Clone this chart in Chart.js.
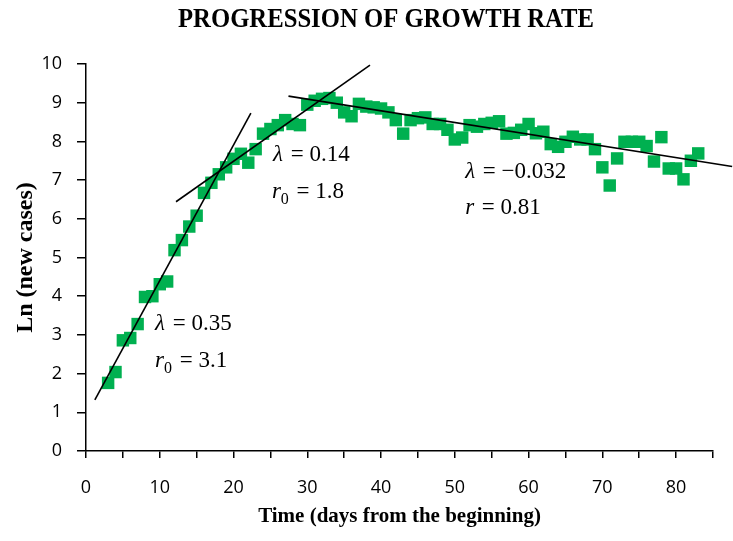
<!DOCTYPE html>
<html>
<head>
<meta charset="utf-8">
<script src="https://cdn.jsdelivr.net/npm/chart.js@4.4.1/dist/chart.umd.min.js"></script>
<style>
  html, body { margin: 0; padding: 0; background: #fff; }
</style>
</head>
<body>
<canvas id="growthChart" width="733" height="541"></canvas>
<script>
// Daily observations (day number and ln of new cases)
const days = [
  3, 4, 5, 6, 7, 8, 9, 10, 11, 12,
  13, 14, 15, 16, 17, 18, 19, 20, 21, 22,
  23, 24, 25, 26, 27, 28, 29, 30, 31, 32,
  33, 34, 35, 36, 37, 38, 39, 40, 41, 42,
  43, 44, 45, 46, 47, 48, 49, 50, 51, 52,
  53, 54, 55, 56, 57, 58, 59, 60, 61, 62,
  63, 64, 65, 66, 67, 68, 69, 70, 71, 72,
  73, 74, 75, 76, 77, 78, 79, 80, 81, 82,
  83
];
const lnCases = [
  1.76, 2.04, 2.86, 2.92, 3.28, 3.98, 4.00, 4.31, 4.38, 5.19,
  5.45, 5.80, 6.08, 6.67, 6.93, 7.15, 7.33, 7.55, 7.68, 7.45,
  7.80, 8.20, 8.32, 8.42, 8.55, 8.45, 8.42, 8.95, 9.05, 9.10,
  9.12, 9.00, 8.75, 8.65, 8.97, 8.90, 8.88, 8.85, 8.75, 8.55,
  8.20, 8.55, 8.60, 8.62, 8.45, 8.45, 8.30, 8.05, 8.10, 8.42,
  8.38, 8.45, 8.48, 8.52, 8.20, 8.22, 8.30, 8.45, 8.21, 8.25,
  7.93, 7.86, 7.99, 8.12, 8.05, 8.05, 7.80, 7.33, 6.86, 7.56,
  7.99, 7.99, 7.99, 7.88, 7.48, 8.11, 7.30, 7.30, 7.02, 7.50,
  7.69
];

// Fitted trend lines (end points)
const fit1X = [1.2, 22.35];
const fit1Y = [1.32, 8.73];
const fit2X = [12.2, 38.5];
const fit2Y = [6.44, 9.97];
const fit3X = [27.45, 87.6];
const fit3Y = [9.17, 7.35];

// Axis ticks
const xMin = 0, xMax = 85, xStep = 5, xLabelStep = 10;
const yMin = 0, yMax = 10, yStep = 1;

// Texts
const chartTitle = 'PROGRESSION OF GROWTH RATE';
const xTitle = 'Time (days from the beginning)';
const yTitle = 'Ln (new cases)';

// Equation labels: placed at data coordinates (left edge, baseline)
const equations = [
  { x: 9.35, y: 3.13, sym: 'λ', sub: '', val: '0.35' },
  { x: 9.35, y: 2.17, sym: 'r', sub: '0', val: '3.1' },
  { x: 25.35, y: 7.49, sym: 'λ', sub: '', val: '0.14' },
  { x: 25.2, y: 6.54, sym: 'r', sub: '0', val: '1.8' },
  { x: 51.4, y: 7.05, sym: 'λ', sub: '', val: '\u22120.032' },
  { x: 51.4, y: 6.12, sym: 'r', sub: '', val: '0.81' }
];

const toPoints = (xs, ys) => xs.map((x, i) => ({ x: x, y: ys[i] }));

// Draw the chart title and the equations
const textPlugin = {
  id: 'texts',
  afterDraw(chart) {
    const ctx = chart.ctx;
    const xs = chart.scales.x;
    const ys = chart.scales.y;

    ctx.save();
    ctx.fillStyle = '#000';
    ctx.textBaseline = 'alphabetic';
    ctx.textAlign = 'center';
    ctx.font = 'bold 28px "Liberation Serif"';
    const w = ctx.measureText(chartTitle).width;
    ctx.translate(386, 27);
    ctx.scale(416 / w, 1);
    ctx.fillText(chartTitle, 0, 0);
    ctx.restore();

    ctx.save();
    ctx.fillStyle = '#000';
    ctx.textAlign = 'left';
    ctx.textBaseline = 'alphabetic';
    equations.forEach(eq => {
      let px = xs.getPixelForValue(eq.x);
      const py = ys.getPixelForValue(eq.y);
      ctx.font = 'italic 23px "Liberation Serif"';
      ctx.fillText(eq.sym, px, py);
      px += ctx.measureText(eq.sym).width;
      if (eq.sub) {
        ctx.font = '16px "Liberation Serif"';
        ctx.fillText(eq.sub, px, py + 6);
        px += ctx.measureText(eq.sub).width;
      }
      ctx.font = '23px "Liberation Serif"';
      ctx.fillText(' = ' + eq.val, px + 2, py);
    });
    ctx.restore();
  }
};

const fitLine = (xs, ys) => ({
  type: 'scatter',
  data: toPoints(xs, ys),
  showLine: true,
  borderColor: '#000',
  borderWidth: 1.6,
  pointRadius: 0,
  clip: false,
  order: 0
});

new Chart(document.getElementById('growthChart'), {
  type: 'scatter',
  data: {
    datasets: [
      {
        label: 'ln(new cases)',
        data: toPoints(days, lnCases),
        pointStyle: 'rect',
        pointRadius: 8.8,
        backgroundColor: '#00B050',
        borderColor: '#00B050',
        borderWidth: 0,
        order: 1
      },
      fitLine(fit1X, fit1Y),
      fitLine(fit2X, fit2Y),
      fitLine(fit3X, fit3Y)
    ]
  },
  options: {
    responsive: false,
    animation: false,
    devicePixelRatio: 1,
    layout: { padding: { top: 64, right: 20, left: 0, bottom: 0 } },
    plugins: {
      legend: { display: false },
      tooltip: { enabled: false }
    },
    scales: {
      x: {
        type: 'linear',
        min: xMin,
        max: xMax,
        afterFit: s => { s.height = 90; },
        ticks: {
          stepSize: xStep,
          autoSkip: false,
          maxRotation: 0,
          padding: 19,
          color: '#000',
          font: { family: '"Open Sans"', size: 18 },
          callback: v => (v % xLabelStep === 0 ? String(v) : '')
        },
        grid: {
          drawOnChartArea: false,
          drawTicks: true,
          tickLength: 7,
          color: '#000',
          lineWidth: 1.5
        },
        border: { display: true, color: '#000', width: 1.5 },
        title: {
          display: true,
          text: xTitle,
          color: '#000',
          font: { family: '"Liberation Serif"', size: 21, weight: 'bold' },
          padding: { top: 0, bottom: 12 }
        }
      },
      y: {
        type: 'linear',
        min: yMin,
        max: yMax,
        afterFit: s => { s.width = 86; },
        ticks: {
          stepSize: yStep,
          padding: 15,
          color: '#000',
          font: { family: '"Open Sans"', size: 18 }
        },
        grid: {
          drawOnChartArea: false,
          drawTicks: true,
          tickLength: 9,
          color: '#000',
          lineWidth: 1.5
        },
        border: { display: true, color: '#000', width: 1.5 },
        title: {
          display: true,
          text: yTitle,
          color: '#000',
          font: { family: '"Liberation Serif"', size: 24, weight: 'bold' },
          padding: { top: 11, bottom: 0 }
        }
      }
    }
  },
  plugins: [textPlugin]
});
</script>
</body>
</html>
